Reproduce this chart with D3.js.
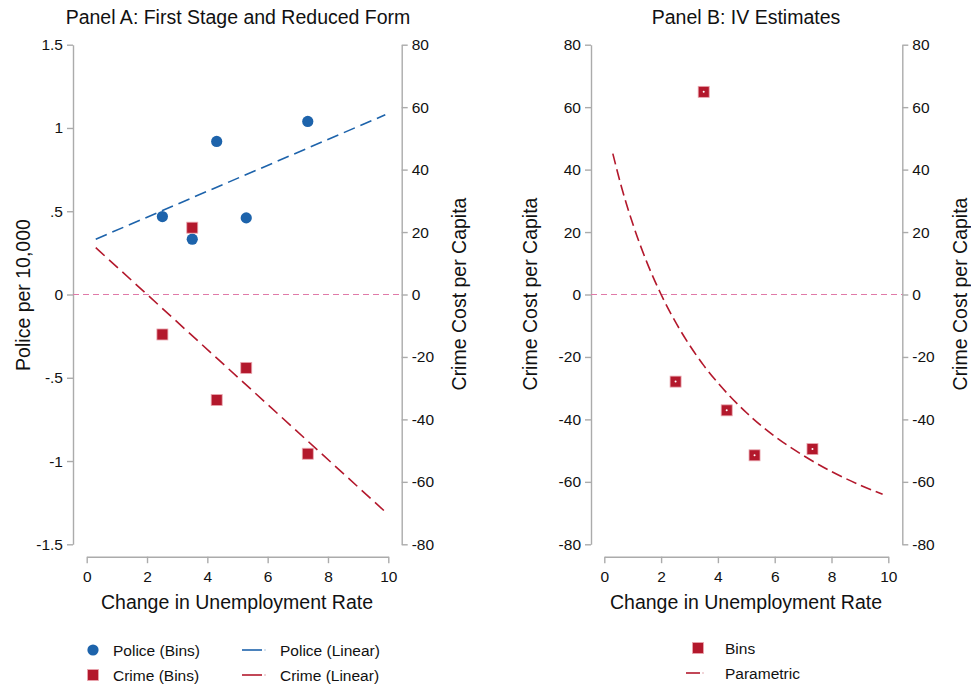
<!DOCTYPE html>
<html>
<head>
<meta charset="utf-8">
<script src="https://cdn.jsdelivr.net/npm/d3@7"></script>
<style>
  html, body { margin: 0; padding: 0; background: #fff; }
  svg { display: block; font-family: "Liberation Sans", Arial, Helvetica, sans-serif; }
  .axis path, .axis line { stroke: #ababab; stroke-width: 1.4; }
</style>
</head>
<body>
<svg id="chart" width="971" height="690"></svg>
<script>
// Binned unemployment change (x) shared by both panels
const binX = [2.51, 3.50, 4.31, 5.29, 7.33];
// Panel A: police per 10,000 (left axis) and crime cost per capita (right axis)
const policeBins = [0.468, 0.332, 0.919, 0.460, 1.039];
const crimeBins = [-12.8, 21.4, -33.8, -23.5, -51.0];
// Linear fits, start and end points
const fitX = [0.3, 9.9];
const policeFit = [0.332, 1.079];
const crimeFit = [15.0, -69.6];
// Panel B: IV estimates by bin and the parametric curve
const ivBins = [-27.9, 64.9, -37.1, -51.5, -49.5];
const paramX = [0.3, 0.6, 1.0, 1.5, 2.0, 2.5, 3.0, 3.5, 4.0, 5.0, 6.0, 7.0, 8.0, 9.0, 9.8];
const paramY = [45.1, 34.6, 22.7, 10.3, 0.0, -8.7, -16.2, -22.7, -28.3, -37.8, -45.4, -51.5, -56.7, -61.0, -64.0];
// Tick values and labels
const xTicks = [0, 2, 4, 6, 8, 10];
const policeTicks = [-1.5, -1, -0.5, 0, 0.5, 1, 1.5];
const policeTickLabels = ["-1.5", "-1", "-.5", "0", ".5", "1", "1.5"];
const crimeTicks = [-80, -60, -40, -20, 0, 20, 40, 60, 80];

const BLUE = "#1d63ab";
const RED = "#b3182c";
const PINK = "#e07aa8";
const TICK_FS = 15.5, TITLE_FS = 19.5, LEG_FS = 15.5;

const svg = d3.select("#chart");

const plotTop = 44.7, plotBottom = 544.3, xAxisY = 556.7;
const plain = d => String(d);

// ---------- Panel A scales ----------
const xA = d3.scaleLinear().domain([0, 10]).range([86.7, 388.3]);
const yAL = d3.scaleLinear().domain([-1.5, 1.5]).range([plotBottom, plotTop]);
const yAR = d3.scaleLinear().domain([-80, 80]).range([plotBottom, plotTop]);
const axLA = 73, axRA = 401.7;

// ---------- Panel B scales ----------
const xB = d3.scaleLinear().domain([0, 10]).range([604.3, 888.3]);
const yB = d3.scaleLinear().domain([-80, 80]).range([plotBottom, plotTop]);
const axLB = 591, axRB = 902.3;

function drawAxes(g, x, yL, yR, axL, axR, leftTicks, leftFmt) {
  g.append("g").attr("class", "axis").attr("transform", `translate(0,${xAxisY})`)
    .call(d3.axisBottom(x).tickValues(xTicks).tickFormat(plain).tickSize(6.5).tickSizeOuter(0).tickPadding(8));
  g.append("g").attr("class", "axis").attr("transform", `translate(${axL},0)`)
    .call(d3.axisLeft(yL).tickValues(leftTicks).tickFormat(leftFmt).tickSize(6).tickSizeOuter(0).tickPadding(4));
  g.append("g").attr("class", "axis").attr("transform", `translate(${axR},0)`)
    .call(d3.axisRight(yR).tickValues(crimeTicks).tickFormat(plain).tickSize(6).tickSizeOuter(0).tickPadding(4));
  g.selectAll(".axis text").attr("font-size", TICK_FS).attr("fill", "#111");
  // zero reference line
  g.append("line")
    .attr("x1", axL).attr("x2", axR)
    .attr("y1", yR(0)).attr("y2", yR(0))
    .attr("stroke", PINK).attr("stroke-width", 1.2).attr("stroke-dasharray", "6,4");
}

function squares(g, xs, ys, x, y, dot) {
  const s = 11;
  const pts = xs.map((d, i) => [d, ys[i]]);
  g.selectAll(null).data(pts).enter().append("rect")
    .attr("x", d => x(d[0]) - s / 2).attr("y", d => y(d[1]) - s / 2)
    .attr("width", s).attr("height", s)
    .attr("fill", RED).attr("stroke", "#eaa7b0").attr("stroke-width", 0.8);
  if (dot) {
    g.selectAll(null).data(pts).enter().append("circle")
      .attr("cx", d => x(d[0])).attr("cy", d => y(d[1])).attr("r", 1)
      .attr("fill", "#fff");
  }
}

function titleText(x, y, t) {
  svg.append("text").attr("x", x).attr("y", y).attr("text-anchor", "middle")
    .attr("font-size", TITLE_FS).attr("fill", "#111").text(t);
}
function vText(x, y, t) {
  svg.append("text").attr("transform", `translate(${x},${y}) rotate(-90)`)
    .attr("text-anchor", "middle").attr("font-size", TITLE_FS).attr("fill", "#111").text(t);
}

// Panel A
const gA = svg.append("g");
drawAxes(gA, xA, yAL, yAR, axLA, axRA, policeTicks, (d, i) => policeTickLabels[i]);

const line = d3.line();
gA.append("path")
  .attr("d", line(fitX.map((d, i) => [xA(d), yAL(policeFit[i])])))
  .attr("fill", "none").attr("stroke", BLUE).attr("stroke-width", 1.6)
  .attr("stroke-dasharray", "12,6");
gA.append("path")
  .attr("d", line(fitX.map((d, i) => [xA(d), yAR(crimeFit[i])])))
  .attr("fill", "none").attr("stroke", RED).attr("stroke-width", 1.6)
  .attr("stroke-dasharray", "12,6");

gA.selectAll(null).data(binX.map((d, i) => [d, policeBins[i]])).enter()
  .append("circle")
  .attr("cx", d => xA(d[0])).attr("cy", d => yAL(d[1])).attr("r", 5.6)
  .attr("fill", BLUE);
squares(gA, binX, crimeBins, xA, yAR, false);

titleText(238, 24, "Panel A: First Stage and Reduced Form");
titleText(237, 609, "Change in Unemployment Rate");
vText(30, 295, "Police per 10,000");
vText(466, 294, "Crime Cost per Capita");

// Panel B
const gB = svg.append("g");
drawAxes(gB, xB, yB, yB, axLB, axRB, crimeTicks, plain);

gB.append("path")
  .attr("d", d3.line().curve(d3.curveMonotoneX)(paramX.map((d, i) => [xB(d), yB(paramY[i])])))
  .attr("fill", "none").attr("stroke", RED).attr("stroke-width", 1.6)
  .attr("stroke-dasharray", "11,5");
squares(gB, binX, ivBins, xB, yB, true);

titleText(746, 24, "Panel B: IV Estimates");
titleText(746, 609, "Change in Unemployment Rate");
vText(537, 294, "Crime Cost per Capita");
vText(967, 294, "Crime Cost per Capita");

// ---------- Legends ----------
const leg = svg.append("g").attr("font-size", LEG_FS).attr("fill", "#111");
function legText(x, y, t) { leg.append("text").attr("x", x).attr("y", y + 5.5).text(t); }
function legLine(x1, x2, y, c) {
  leg.append("line").attr("x1", x1).attr("x2", x2).attr("y1", y).attr("y2", y)
    .attr("stroke", c).attr("stroke-width", 1.6);
  leg.append("circle").attr("cx", x2 + 3).attr("cy", y).attr("r", 0.7).attr("fill", c).attr("opacity", 0.5);
}
function legSquare(x, y) {
  leg.append("rect").attr("x", x - 5.5).attr("y", y - 5.5).attr("width", 11).attr("height", 11)
    .attr("fill", RED).attr("stroke", "#eaa7b0").attr("stroke-width", 0.8);
}

leg.append("circle").attr("cx", 93).attr("cy", 650).attr("r", 5.6).attr("fill", BLUE);
legText(113, 650, "Police (Bins)");
legSquare(93, 675);
legText(113, 675, "Crime (Bins)");
legLine(242, 262, 650, BLUE);
legText(280, 650, "Police (Linear)");
legLine(242, 262, 675, RED);
legText(280, 675, "Crime (Linear)");

legSquare(698, 648);
legText(725, 648, "Bins");
legLine(686, 700, 673, RED);
legText(725, 673, "Parametric");
</script>
</body>
</html>
